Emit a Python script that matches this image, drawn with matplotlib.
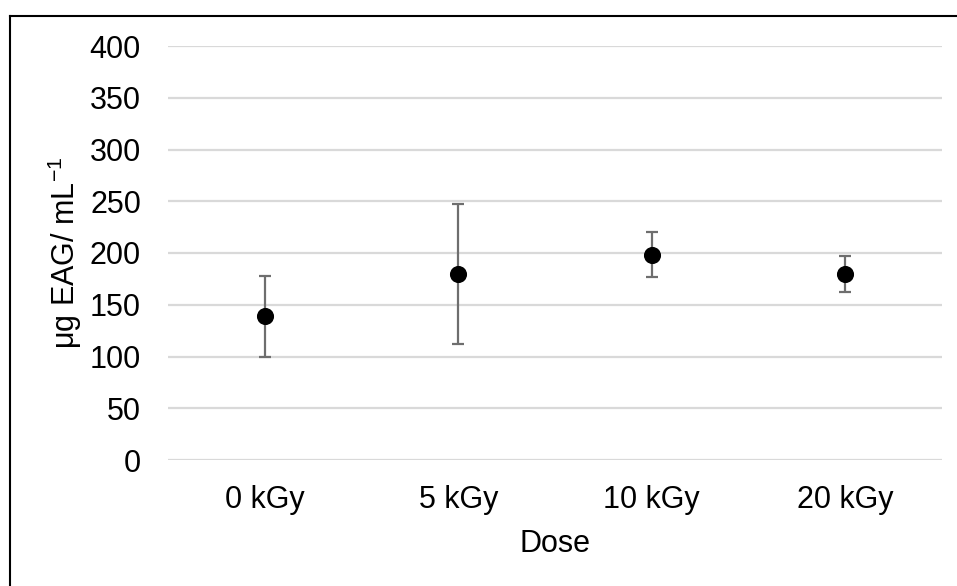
import matplotlib
matplotlib.use("Agg")
import matplotlib.pyplot as plt
from matplotlib.lines import Line2D

plt.rcParams['font.family'] = ['Liberation Sans', 'DejaVu Sans']
plt.rcParams['mathtext.fontset'] = 'custom'
plt.rcParams['mathtext.rm'] = 'Liberation Sans'
plt.rcParams['mathtext.it'] = 'Liberation Sans'

doses = ["0 kGy", "5 kGy", "10 kGy", "20 kGy"]
means = [139, 180, 198.5, 179.5]
errors = [39, 67.5, 21.5, 17.5]
y_ticks = [0, 50, 100, 150, 200, 250, 300, 350, 400]

W, H = 957, 586
fig = plt.figure(figsize=(W / 100, H / 100), dpi=100)
ax = fig.add_axes([168 / W, 126 / H, (942 - 168) / W, (460 - 46) / H])

x = list(range(len(doses)))
ax.errorbar(x, means, yerr=errors, fmt='o', color='black', markersize=11.3,
            ecolor='#6e6e6e', elinewidth=1.6, capsize=4.4, capthick=1.6, zorder=3)

ax.set_xlim(-0.5, len(doses) - 0.5)
ax.set_ylim(0, 400)
ax.set_yticks(y_ticks)
ax.set_xticks(x)
ax.set_xticklabels(doses)
ax.yaxis.grid(True, color='#d9d9d9', linewidth=1.6)
ax.set_axisbelow(True)
for s in ax.spines.values():
    s.set_visible(False)
ax.tick_params(axis='both', length=0, labelsize=22, colors='black')
ax.tick_params(axis='y', pad=19.5)
ax.tick_params(axis='x', pad=18)

ax.set_xlabel("Dose", fontsize=22, labelpad=10)
ax.set_ylabel(r"μg EAG/ mL$^{\mathdefault{-1}}$", fontsize=22, labelpad=4)

# outer frame
fig.add_artist(Line2D([10 / W, 10 / W], [0, 1 - 16 / H], transform=fig.transFigure,
                      color='black', linewidth=1.5))
fig.add_artist(Line2D([10 / W, 1], [1 - 16 / H, 1 - 16 / H], transform=fig.transFigure,
                      color='black', linewidth=1.5))

fig.savefig("out.png", dpi=100)
